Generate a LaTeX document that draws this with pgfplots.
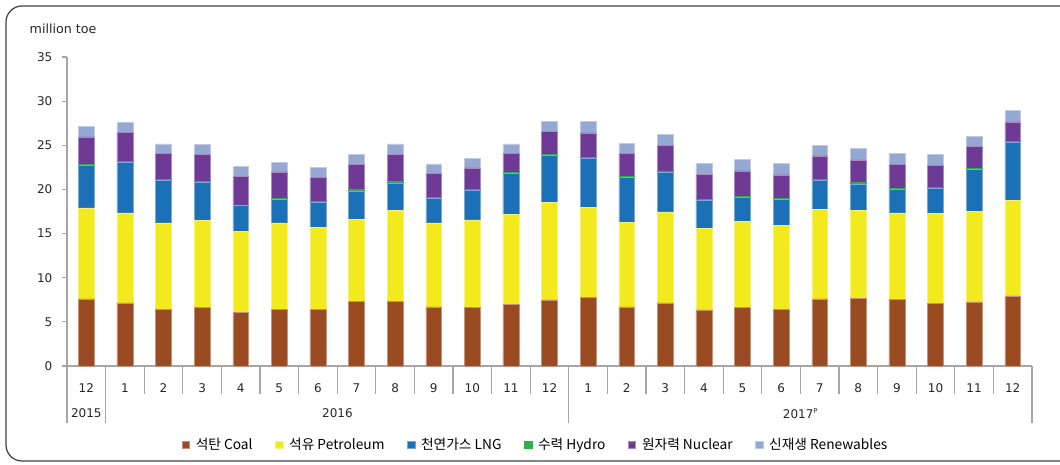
\documentclass[border=0pt]{standalone}
\usepackage{pgfplots}
\pgfplotsset{compat=1.18}
\usepackage{pgfplotstable}
\usepackage{fontspec}
\setmainfont{DejaVu Sans}
\newfontfamily\kr{Noto Sans CJK KR}
\definecolor{coal}{HTML}{9A4B22}
\definecolor{pet}{HTML}{F2EA1D}
\definecolor{lng}{HTML}{1B70B8}
\definecolor{hydro}{HTML}{2FAE4B}
\definecolor{nuc}{HTML}{6E3A96}
\definecolor{ren}{HTML}{95A8D2}
\definecolor{axgray}{HTML}{A6A6A6}

\pgfplotstableread{
x coal pet lng hydro nuc ren
0 7.6 10.3 4.85 0.1 3.1 1.15
1 7.15 10.2 5.7 0.15 3.25 1.2
2 6.4 9.8 4.8 0.12 2.92 1.13
3 6.65 9.85 4.3 0.1 3.03 1.17
4 6.1 9.15 2.9 0.1 3.2 1.15
5 6.45 9.75 2.7 0.12 2.98 1.1
6 6.4 9.3 2.8 0.15 2.7 1.15
7 7.35 9.3 3.15 0.2 2.8 1.15
8 7.3 10.3 3.15 0.15 3.05 1.2
9 6.7 9.5 2.75 0.15 2.7 1.1
10 6.6 9.95 3.35 0.1 2.45 1.05
11 6.95 10.2 4.65 0.1 2.15 1.1
12 7.5 11.05 5.3 0.1 2.6 1.2
13 7.8 10.15 5.55 0.15 2.75 1.3
14 6.7 9.55 5.15 0.1 2.55 1.2
15 7.15 10.3 4.55 0.1 2.85 1.25
16 6.35 9.2 3.2 0.12 2.8 1.3
17 6.6 9.8 2.7 0.15 2.85 1.3
18 6.4 9.5 2.95 0.15 2.65 1.3
19 7.6 10.15 3.25 0.15 2.65 1.15
20 7.7 9.9 3.0 0.2 2.55 1.3
21 7.55 9.8 2.65 0.15 2.65 1.3
22 7.05 10.2 2.85 0.15 2.45 1.25
23 7.25 10.3 4.7 0.15 2.45 1.2
24 7.95 10.85 6.5 0.15 2.2 1.3
}\data

\begin{document}
\begin{tikzpicture}
\path[use as bounding box] (0,0) rectangle (795pt,348pt);
\clip (0,0) rectangle (795pt,348pt);
\begin{axis}[
  scale only axis, width=723.75pt, height=231.75pt,
  at={(50.25pt,73.5pt)}, anchor=south west,
  ybar stacked, bar width=0.41,
  xmin=-0.5, xmax=24.5, ymin=0, ymax=35,
  enlargelimits=false,
  axis x line*=bottom, axis y line*=left,
  x axis line style={draw=axgray, line width=0.9pt},
  y axis line style={draw=axgray, line width=0.9pt},
  xtick={0,...,24},
  xticklabels={12,1,2,3,4,5,6,7,8,9,10,11,12,1,2,3,4,5,6,7,8,9,10,11,12},
  x tick style={draw=none},
  ytick={0,5,...,35},
  y tick style={draw=axgray, line width=0.9pt},
  tick align=outside, major tick length=3.75pt,
  ticklabel style={font=\fontsize{9}{10}\selectfont, text=black!85},
  /pgf/number format/assume math mode=true,
  xticklabel style={yshift=-6pt},
  yticklabel style={xshift=-3.75pt},
  clip=false,
  legend columns=6,
  legend style={at={(0.486,-0.255)}, anchor=center, draw=none, fill=none,
     font=\kr\fontsize{10.3}{12}\selectfont,
     /tikz/every even column/.append style={column sep=15pt},
     /tikz/every odd column/.append style={column sep=2.5pt}},
  legend image code/.code={\fill[#1] (0pt,-2.75pt) rectangle (5.5pt,2.75pt);},
]
\addplot[fill=coal, draw=coal!60!white, line width=0.4pt] table[x=x,y=coal]{\data};
\addplot[fill=pet, draw=pet!60!white, line width=0.4pt] table[x=x,y=pet]{\data};
\addplot[fill=lng, draw=lng!60!white, line width=0.4pt] table[x=x,y=lng]{\data};
\addplot[fill=hydro, draw=hydro, line width=0.4pt] table[x=x,y=hydro]{\data};
\addplot[fill=nuc, draw=nuc!60!white, line width=0.4pt] table[x=x,y=nuc]{\data};
\addplot[fill=ren, draw=ren!60!white, line width=0.4pt] table[x=x,y=ren]{\data};
\legend{석탄 Coal, 석유 Petroleum, 천연가스 LNG, 수력 Hydro, 원자력 Nuclear, 신재생 Renewables}
\end{axis}
\begin{scope}[x=0.75pt,y=0.75pt]
  % month separators
  \foreach \k in {0,...,25} {
    \draw[axgray, line width=0.9pt] ({67+38.6*\k},98) -- ({67+38.6*\k},70);
  }
  \foreach \k in {0,1,13,25} {
    \draw[axgray, line width=0.9pt] ({67+38.6*\k},70) -- ({67+38.6*\k},41);
  }
  \node[font=\fontsize{9}{10}\selectfont, text=black!85] at (86.3,50.5) {2015};
  \node[font=\fontsize{9}{10}\selectfont, text=black!85] at (337.5,50.5) {2016};
  \node[font=\fontsize{9}{10}\selectfont, text=black!85] at (800.5,50.5) {2017\textsuperscript{\fontsize{5}{5}\selectfont P}};
  \node[anchor=west, font=\fontsize{9.5}{11}\selectfont, text=black!85] at (25,435) {million toe};
  \draw[black!75, line width=0.9pt, rounded corners=12pt] (6,3) rectangle (1090,458);
\end{scope}
\end{tikzpicture}
\end{document}
